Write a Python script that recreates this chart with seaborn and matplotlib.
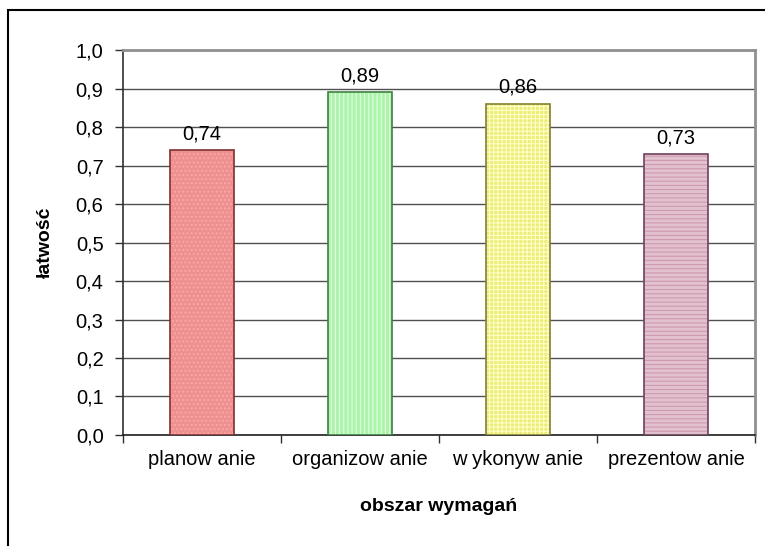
import matplotlib
matplotlib.use("Agg")
import matplotlib.pyplot as plt
import seaborn as sns
import pandas as pd
from matplotlib.patches import Rectangle
from matplotlib.ticker import FixedLocator, FuncFormatter

# data
categories = ["planow anie", "organizow anie", "w ykonyw anie", "prezentow anie"]
values = [0.74, 0.89, 0.86, 0.73]
fill_colors = ["#FF8080", "#A0FFA0", "#FFFF66", "#E6BCCC"]
hatch_colors = ["#FFA8A8", "#E0FFE0", "#FFFFC8", "#D098B0"]
edge_colors = ["#803030", "#408040", "#808030", "#704060"]
hatches = ["....", "||||", "++++", "----"]

df = pd.DataFrame({"obszar": categories, "latwosc": values})

sns.set_style("white")
plt.rcParams["font.family"] = ["Liberation Sans", "DejaVu Sans"]
plt.rcParams["text.color"] = "black"
plt.rcParams["axes.labelcolor"] = "black"
plt.rcParams["xtick.color"] = "black"
plt.rcParams["ytick.color"] = "black"
plt.rcParams["hatch.linewidth"] = 0.8

fig = plt.figure(figsize=(7.65, 5.46), dpi=100)
ax = fig.add_axes([0.1608, 0.2033, 0.8261, 0.7051])

sns.barplot(data=df, x="obszar", y="latwosc", hue="obszar", palette=fill_colors,
            width=0.405, legend=False, ax=ax, zorder=3)

for patch, hc, ec, h in zip(ax.patches, hatch_colors, edge_colors, hatches):
    patch.set_hatch(h)
    patch.set_edgecolor(hc)
    patch.set_linewidth(0)
    outline = Rectangle(patch.get_xy(), patch.get_width(), patch.get_height(),
                        fill=False, edgecolor=ec, linewidth=1.2, zorder=4)
    ax.add_patch(outline)
    ax.annotate(f"{patch.get_height():.2f}".replace(".", ","),
                (patch.get_x() + patch.get_width() / 2, patch.get_height()),
                xytext=(0, 5), textcoords="offset points",
                ha="center", va="bottom", fontsize=14.5, zorder=5)

ax.set_ylim(0, 1.0)
ax.set_xlim(-0.5, len(categories) - 0.5)
ax.set_yticks([i / 10 for i in range(11)])
ax.yaxis.set_major_formatter(FuncFormatter(lambda v, p: f"{v:.1f}".replace(".", ",")))
ax.yaxis.grid(True, color="#505050", linewidth=1.0, zorder=0)

# category boundaries as major ticks, labels on minor ticks
ax.xaxis.set_major_locator(FixedLocator([i - 0.5 for i in range(len(categories) + 1)]))
ax.xaxis.set_minor_locator(FixedLocator(list(range(len(categories)))))
ax.set_xticklabels([], minor=False)
ax.set_xticklabels(categories, minor=True)
ax.tick_params(axis="x", which="major", direction="out", length=6, width=1, color="#303030", bottom=True)
ax.tick_params(axis="x", which="minor", length=0, pad=11, labelsize=14.5)
ax.tick_params(axis="y", direction="out", length=6, width=1, color="#303030", left=True,
               labelsize=14.5, pad=8)

for side in ["top", "right"]:
    ax.spines[side].set_color("#909090")
    ax.spines[side].set_linewidth(2)
ax.spines["left"].set_color("#303030")
ax.spines["bottom"].set_color("#202020")
ax.spines["left"].set_linewidth(1.2)
ax.spines["bottom"].set_linewidth(1.2)

ax.set_xlabel("obszar wymagań", fontsize=14, fontweight="bold", labelpad=21)
ax.set_ylabel("łatwość", fontsize=14, fontweight="bold", labelpad=16)

# outer chart border (cut off on the right and bottom in the reference)
fig.patches.append(Rectangle((8 / 765, -0.1), 1.2, 1.1 - 10 / 546, transform=fig.transFigure,
                             fill=False, edgecolor="black", linewidth=1.5))

fig.savefig("out.png", dpi=100)
